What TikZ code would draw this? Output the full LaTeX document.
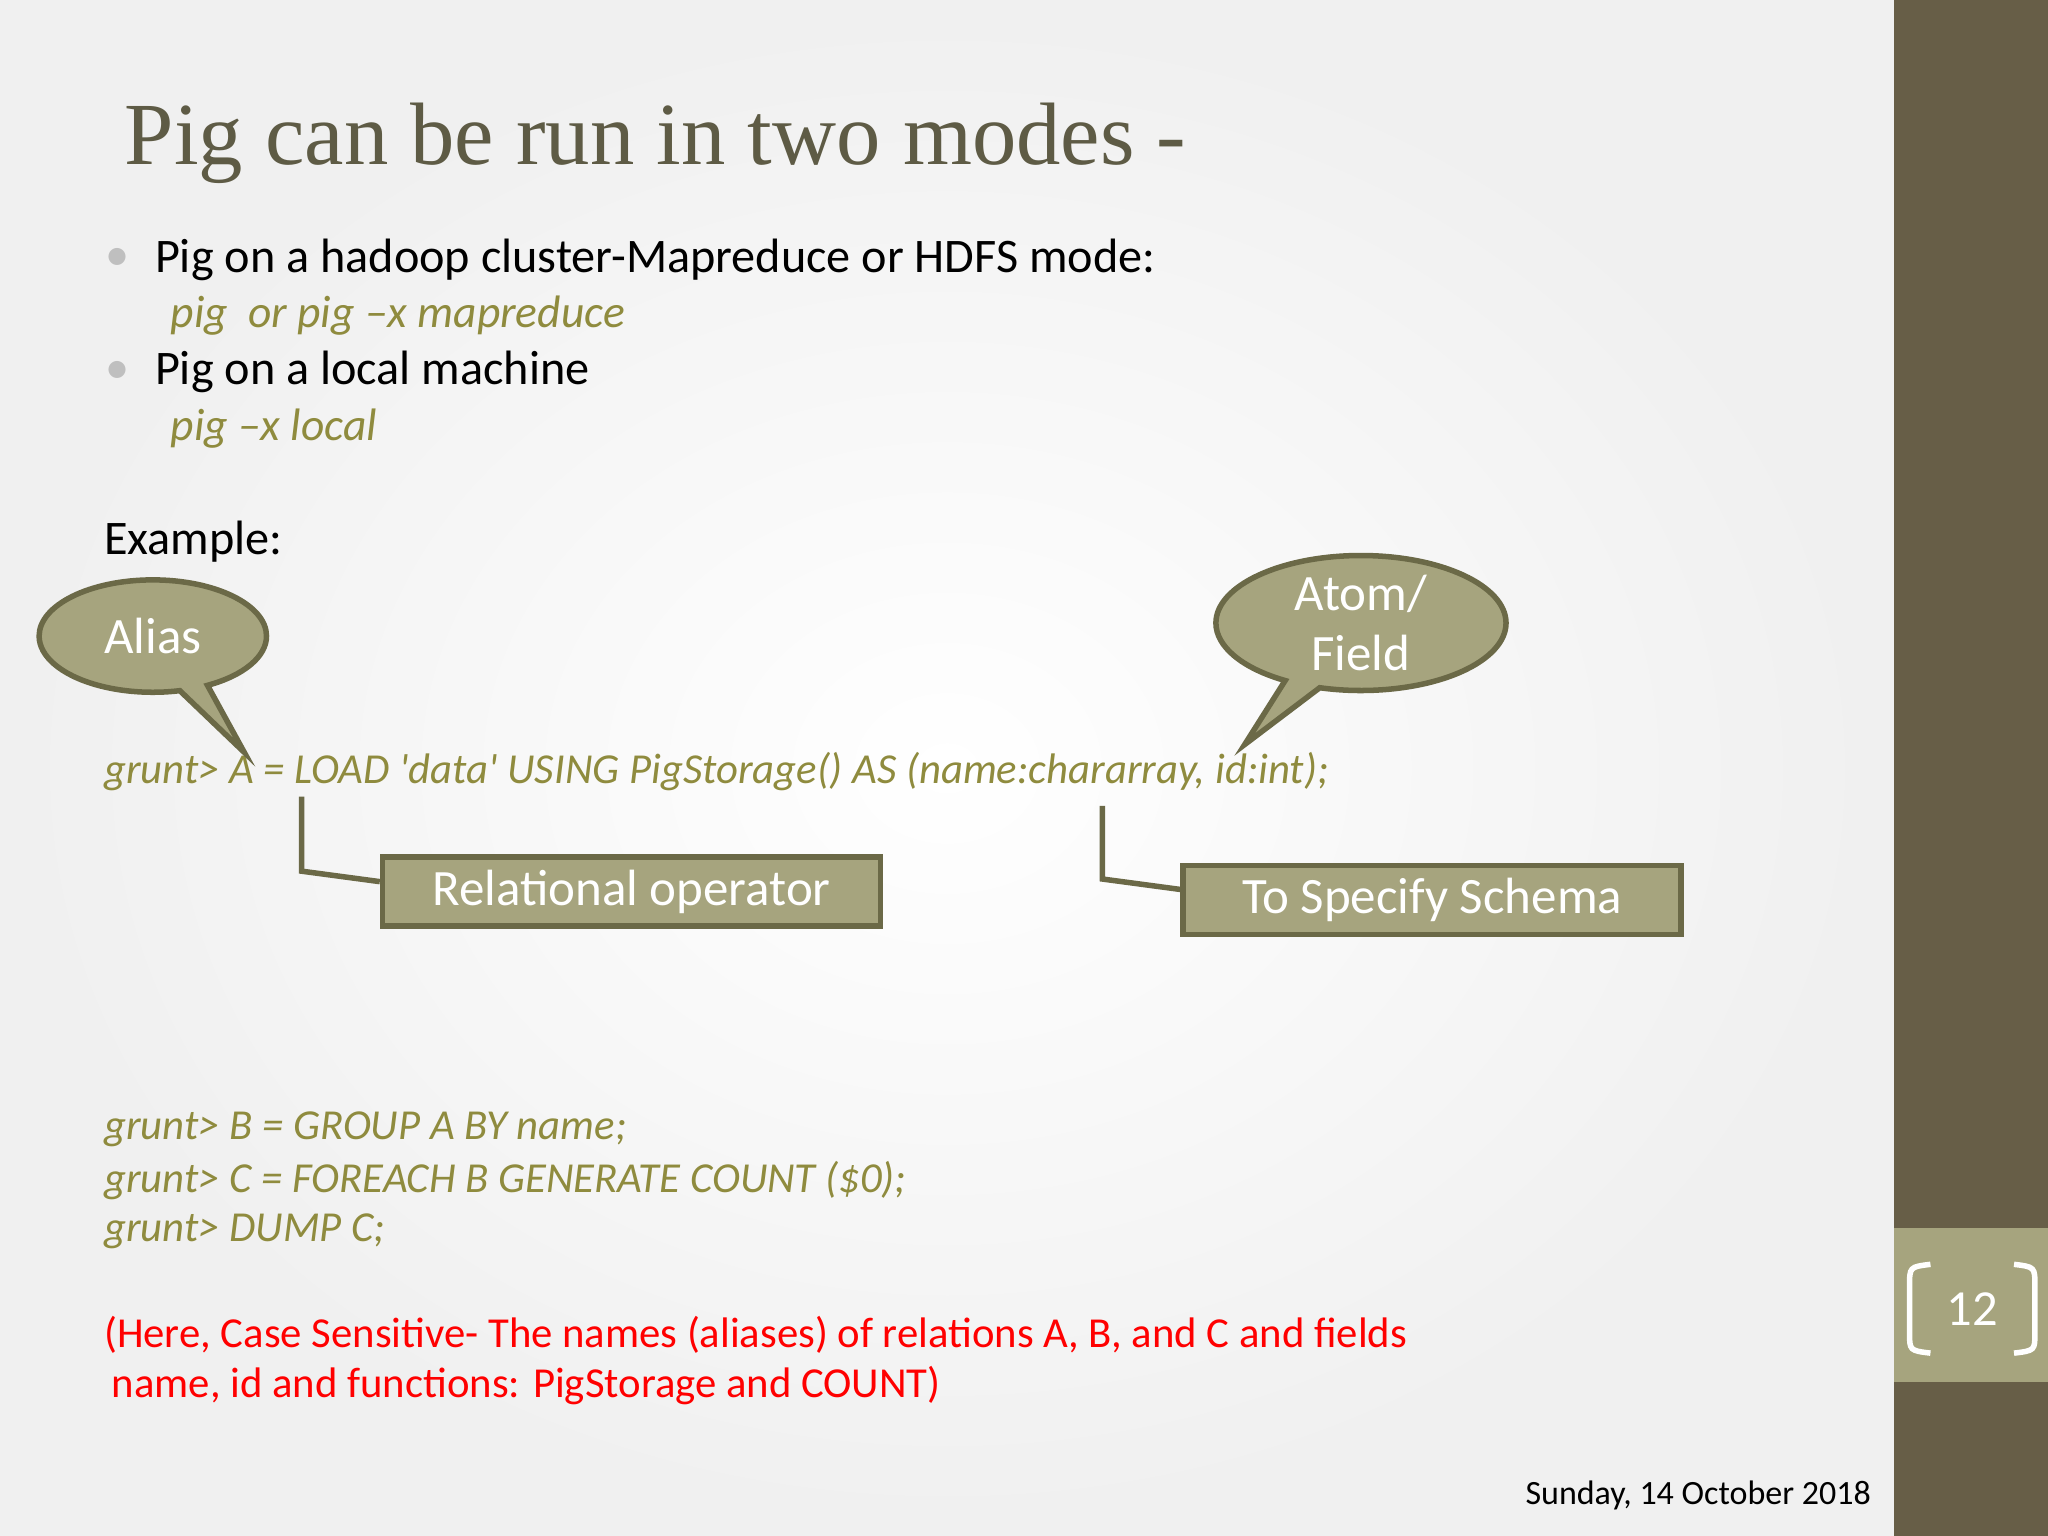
\documentclass[tikz,border=0pt]{standalone}
\usepackage{fontspec}
\setmainfont{Carlito}
\newfontfamily\titlefont{Liberation Serif}
\usetikzlibrary{shapes.callouts}
\definecolor{band}{HTML}{675E47}
\definecolor{olive}{HTML}{8F8B3E}
\definecolor{boxfill}{HTML}{A6A47E}
\definecolor{boxline}{HTML}{6B6947}
\definecolor{titlec}{HTML}{5E5B45}
\tikzset{
  body/.style={anchor=west,inner sep=0pt,font=\fontsize{10.5pt}{12pt}\selectfont},
  code/.style={anchor=west,inner sep=0pt,text=olive,font=\fontsize{9.3pt}{11pt}\selectfont\itshape},
  redt/.style={anchor=west,inner sep=0pt,text=red,font=\fontsize{9.3pt}{11pt}\selectfont},
  tagbox/.style={draw=boxline,line width=1.2pt,fill=boxfill,text=white,font=\fontsize{11.1pt}{13pt}\selectfont,minimum width=3.81cm,minimum height=0.53cm,inner sep=0pt},
  bubble/.style={ellipse callout,draw=boxline,line width=1.2pt,fill=boxfill,text=white,font=\fontsize{11.1pt}{13pt}\selectfont,align=center,inner sep=0pt},
  lead/.style={draw=boxline,line width=1.2pt}
}
\begin{document}
\begin{tikzpicture}[x=0.01cm,y=-0.01cm]
\useasboundingbox (0,0) rectangle (1568,1176);
\shade[inner color=white,outer color=gray!12] (0,0) rectangle (1450,1176);
\fill[band] (1450,0) rectangle (1568,1176);
\fill[boxfill] (1450,940) rectangle (1568,1058);
\node[text=white,font=\fontsize{11pt}{13pt}\selectfont] (pn) at (1510,1002) {12};
\draw[white,line width=1.2pt] (1478,968) .. controls (1462,970) .. (1462,985) -- (1462,1020) .. controls (1462,1034) .. (1478,1036);
\draw[white,line width=1.2pt] (1542,968) .. controls (1558,970) .. (1558,985) -- (1558,1020) .. controls (1558,1034) .. (1542,1036);
\node[anchor=west,inner sep=0pt,text=titlec,font=\fontsize{19.3pt}{22pt}\selectfont\titlefont] (title) at (95,110) {Pig can be run in two modes -};
\node[body,text=gray!50] (b1) at (80,199) {\textbullet};
\node[body] (t1) at (118,199) {Pig on a hadoop cluster-Mapreduce or HDFS mode:};
\node[code,font=\fontsize{9.9pt}{11pt}\selectfont\itshape] (c1) at (130,242) {pig\ \ or pig –x mapreduce};
\node[body,text=gray!50] (b2) at (80,285) {\textbullet};
\node[body] (t2) at (118,285) {Pig on a local machine};
\node[code,font=\fontsize{9.9pt}{11pt}\selectfont\itshape] (c2) at (130,328) {pig –x local};
\node[body] (ex) at (79,415) {Example:};
\node[code] (g1) at (79,591) {grunt> A = LOAD \textquotesingle data\textquotesingle{} USING PigStorage() AS (name:chararray, id:int);};
\coordinate (pa) at (187,576);
\node[bubble,minimum width=1.74cm,minimum height=0.86cm,callout absolute pointer={(pa)}] (alias) at (117,487) {Alias};
\coordinate (pf) at (953,570);
\node[bubble,minimum width=2.22cm,minimum height=0.80cm,callout absolute pointer={(pf)}] (atom) at (1042,477) {Atom/\\Field};
\node[tagbox] (rel) at (483.5,682.5) {Relational operator};
\node[tagbox] (sch) at (1096.5,689) {To Specify Schema};
\coordinate (l1) at (231,610);
\coordinate (l1b) at (231,667);
\coordinate (l2) at (844,617);
\coordinate (l2b) at (844,673);
\draw[lead] (l1) -- (l1b) -- (rel.west|-0,675);
\draw[lead] (l2) -- (l2b) -- (sch.west|-0,681);
\node[code] (g2) at (79,865) {grunt> B = GROUP A BY name;};
\node[code] (g3) at (79,904) {grunt> C = FOREACH B GENERATE COUNT (\$0);};
\node[code] (g4) at (79,943) {grunt> DUMP C;};
\node[redt] (r1) at (79,1022) {(Here, Case Sensitive- The names (aliases) of relations A, B, and C and fields};
\node[redt] (r2) at (85,1061) {name, id and functions: PigStorage and COUNT)};
\node[anchor=east,inner sep=0pt,font=\fontsize{7.4pt}{9pt}\selectfont] (date) at (1433,1145) {Sunday, 14 October 2018};
\end{tikzpicture}
\end{document}
